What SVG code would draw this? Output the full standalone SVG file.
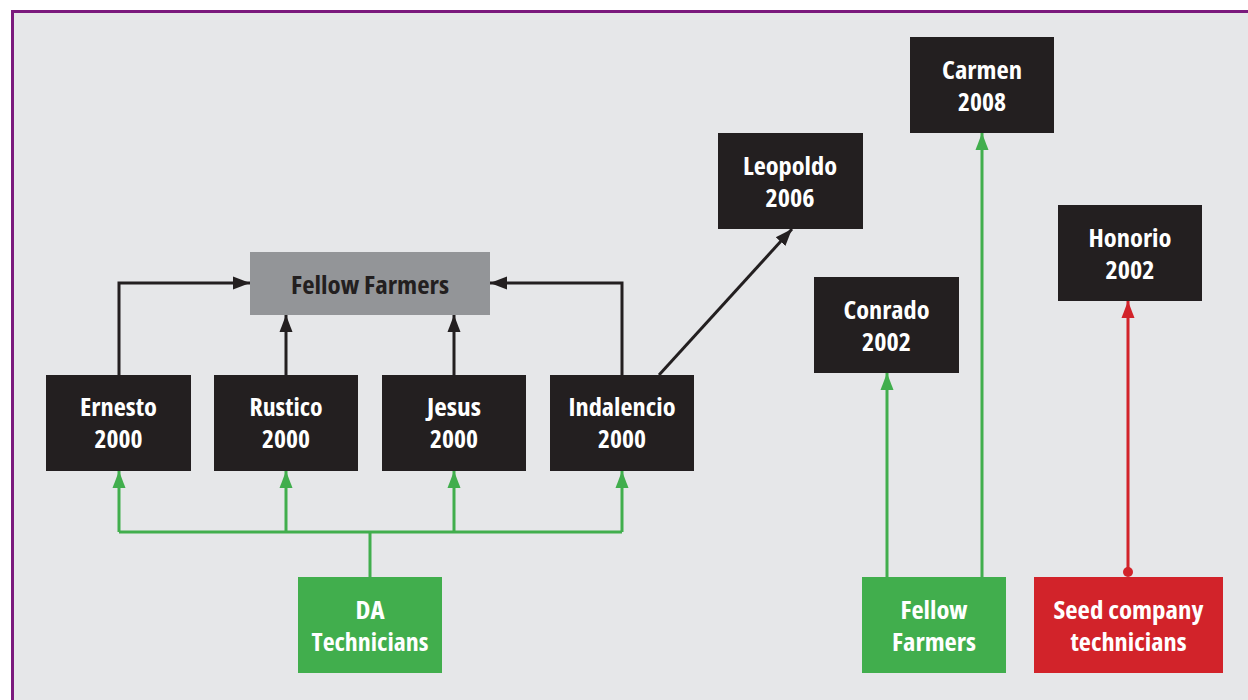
<svg xmlns="http://www.w3.org/2000/svg" width="1248" height="700" viewBox="0 0 1248 700">
<style>
text{font-family:"Open Sans","Liberation Sans",sans-serif;font-weight:700;font-size:24px;font-stretch:condensed;text-anchor:middle}
.w{fill:#ffffff}
.d{fill:#231f20}
.blk{fill:#231f20}
.gry{fill:#939598}
.grn{fill:#41ae4d}
.red{fill:#d2232a}
.cb{fill:none;stroke:#231f20;stroke-width:3}
.cg{fill:none;stroke:#41ae4d;stroke-width:3}
.cr{fill:none;stroke:#d2232a;stroke-width:3}
</style>
<defs>
<marker id="ab" markerUnits="userSpaceOnUse" markerWidth="18" markerHeight="16" viewBox="0 0 18 16" refX="17" refY="8" orient="auto"><path d="M0,1.5 L17,8 L0,14.5 z" fill="#231f20"/></marker>
<marker id="ag" markerUnits="userSpaceOnUse" markerWidth="18" markerHeight="16" viewBox="0 0 18 16" refX="17" refY="8" orient="auto"><path d="M0,1.5 L17,8 L0,14.5 z" fill="#41ae4d"/></marker>
<marker id="ar" markerUnits="userSpaceOnUse" markerWidth="18" markerHeight="16" viewBox="0 0 18 16" refX="17" refY="8" orient="auto"><path d="M0,1.5 L17,8 L0,14.5 z" fill="#d2232a"/></marker>
</defs>
<rect x="0" y="0" width="1248" height="700" fill="#ffffff"/>
<rect x="12.5" y="11.5" width="1250" height="700" fill="#e6e7e9" stroke="#7b1a7d" stroke-width="3"/>

<g id="connectors">
<path class="cb" d="M119,375 V283 H250" marker-end="url(#ab)"/>
<path class="cb" d="M286,375 V315" marker-end="url(#ab)"/>
<path class="cb" d="M454,375 V315" marker-end="url(#ab)"/>
<path class="cb" d="M622,375 V283 H490" marker-end="url(#ab)"/>
<path class="cb" d="M659,375 L792,229" marker-end="url(#ab)"/>
<path class="cg" d="M119,532 H622"/>
<path class="cg" d="M370,577 V532"/>
<path class="cg" d="M119,532 V471" marker-end="url(#ag)"/>
<path class="cg" d="M286,532 V471" marker-end="url(#ag)"/>
<path class="cg" d="M454,532 V471" marker-end="url(#ag)"/>
<path class="cg" d="M622,532 V471" marker-end="url(#ag)"/>
<path class="cg" d="M887,577 V373" marker-end="url(#ag)"/>
<path class="cg" d="M982,577 V133" marker-end="url(#ag)"/>
<path class="cr" d="M1128,572 V301" marker-end="url(#ar)"/>
<circle cx="1128" cy="572" r="5" fill="#d2232a"/>
</g>

<g id="fellow-farmers-top">
<rect class="gry" x="250" y="252" width="240" height="63"/>
<text class="d" x="370" y="294" textLength="158" lengthAdjust="spacingAndGlyphs">Fellow Farmers</text>
</g>
<g id="ernesto">
<rect class="blk" x="46" y="375" width="145" height="96"/>
<text class="w" x="118.5" y="416" textLength="77" lengthAdjust="spacingAndGlyphs">Ernesto</text>
<text class="w" x="118.5" y="448" textLength="48" lengthAdjust="spacingAndGlyphs">2000</text>
</g>
<g id="rustico">
<rect class="blk" x="214" y="375" width="144" height="96"/>
<text class="w" x="286" y="416" textLength="73" lengthAdjust="spacingAndGlyphs">Rustico</text>
<text class="w" x="286" y="448" textLength="48" lengthAdjust="spacingAndGlyphs">2000</text>
</g>
<g id="jesus">
<rect class="blk" x="382" y="375" width="144" height="96"/>
<text class="w" x="454" y="416" textLength="54" lengthAdjust="spacingAndGlyphs">Jesus</text>
<text class="w" x="454" y="448" textLength="48" lengthAdjust="spacingAndGlyphs">2000</text>
</g>
<g id="indalencio">
<rect class="blk" x="550" y="375" width="144" height="96"/>
<text class="w" x="622" y="416" textLength="107" lengthAdjust="spacingAndGlyphs">Indalencio</text>
<text class="w" x="622" y="448" textLength="48" lengthAdjust="spacingAndGlyphs">2000</text>
</g>
<g id="leopoldo">
<rect class="blk" x="718" y="133" width="145" height="96"/>
<text class="w" x="790" y="175" textLength="94" lengthAdjust="spacingAndGlyphs">Leopoldo</text>
<text class="w" x="790" y="207" textLength="49" lengthAdjust="spacingAndGlyphs">2006</text>
</g>
<g id="carmen">
<rect class="blk" x="910" y="37" width="144" height="96"/>
<text class="w" x="982" y="79" textLength="80" lengthAdjust="spacingAndGlyphs">Carmen</text>
<text class="w" x="982" y="111" textLength="48" lengthAdjust="spacingAndGlyphs">2008</text>
</g>
<g id="conrado">
<rect class="blk" x="814" y="277" width="145" height="96"/>
<text class="w" x="886.5" y="319" textLength="86" lengthAdjust="spacingAndGlyphs">Conrado</text>
<text class="w" x="886.5" y="351" textLength="49" lengthAdjust="spacingAndGlyphs">2002</text>
</g>
<g id="honorio">
<rect class="blk" x="1058" y="205" width="144" height="96"/>
<text class="w" x="1130" y="247" textLength="83" lengthAdjust="spacingAndGlyphs">Honorio</text>
<text class="w" x="1130" y="279" textLength="49" lengthAdjust="spacingAndGlyphs">2002</text>
</g>
<g id="da-technicians">
<rect class="grn" x="298" y="577" width="144" height="96"/>
<text class="w" x="370" y="619" textLength="29" lengthAdjust="spacingAndGlyphs">DA</text>
<text class="w" x="370" y="651" textLength="117" lengthAdjust="spacingAndGlyphs">Technicians</text>
</g>
<g id="fellow-farmers-source">
<rect class="grn" x="862" y="577" width="144" height="96"/>
<text class="w" x="934" y="619" textLength="67" lengthAdjust="spacingAndGlyphs">Fellow</text>
<text class="w" x="934" y="651" textLength="84" lengthAdjust="spacingAndGlyphs">Farmers</text>
</g>
<g id="seed-company">
<rect class="red" x="1034" y="577" width="189" height="96"/>
<text class="w" x="1128.5" y="619" textLength="150" lengthAdjust="spacingAndGlyphs">Seed company</text>
<text class="w" x="1128.5" y="651" textLength="116" lengthAdjust="spacingAndGlyphs">technicians</text>
</g>
</svg>
